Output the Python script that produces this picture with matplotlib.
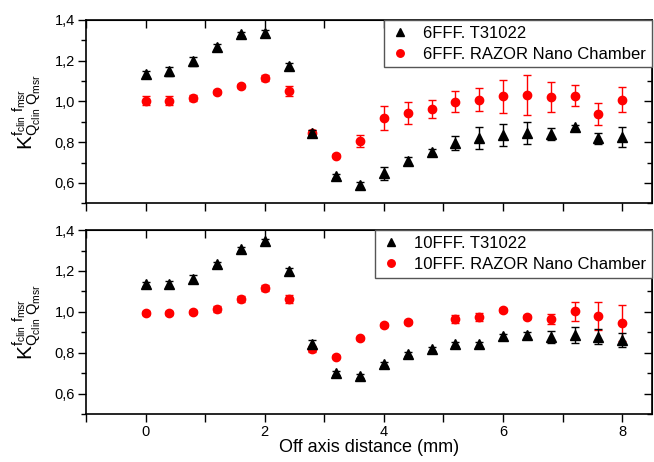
import numpy as np
import matplotlib
matplotlib.use("Agg")
import matplotlib.pyplot as plt
from matplotlib.ticker import MultipleLocator, FuncFormatter

plt.rcParams['font.family'] = ['Liberation Sans', 'DejaVu Sans']
plt.rcParams['mathtext.fontset'] = 'custom'
plt.rcParams['mathtext.rm'] = 'Liberation Sans'
plt.rcParams['mathtext.it'] = 'Liberation Sans'

# off axis distance (mm)
distance = [0.0, 0.4, 0.8, 1.2, 1.6, 2.0, 2.4, 2.8, 3.2, 3.6, 4.0,
            4.4, 4.8, 5.2, 5.6, 6.0, 6.4, 6.8, 7.2, 7.6, 8.0]

# 6FFF
k6_t31022 = [1.136, 1.147, 1.196, 1.269, 1.330, 1.336, 1.175, 0.847, 0.633, 0.589, 0.647,
             0.707, 0.752, 0.796, 0.821, 0.834, 0.845, 0.839, 0.875, 0.818, 0.826]
k6_t31022_err = [0.015, 0.02, 0.02, 0.015, 0.01, 0.015, 0.015, 0.015, 0.01, 0.015, 0.032,
                 0.018, 0.012, 0.034, 0.053, 0.055, 0.054, 0.029, 0.01, 0.029, 0.05]
k6_razor = [1.004, 1.004, 1.018, 1.044, 1.075, 1.114, 1.051, 0.847, 0.733, 0.806, 0.919,
            0.943, 0.963, 0.999, 1.009, 1.025, 1.031, 1.021, 1.028, 0.938, 1.009]
k6_razor_err = [0.02, 0.02, 0.015, 0.01, 0.008, 0.015, 0.025, 0.015, 0.008, 0.031, 0.057,
                0.052, 0.045, 0.052, 0.056, 0.08, 0.10, 0.075, 0.051, 0.056, 0.061]

# 10FFF
k10_t31022 = [1.134, 1.137, 1.162, 1.234, 1.307, 1.345, 1.201, 0.842, 0.702, 0.686, 0.743,
              0.793, 0.818, 0.841, 0.841, 0.880, 0.885, 0.875, 0.888, 0.878, 0.862]
k10_t31022_err = [0.01, 0.015, 0.02, 0.012, 0.01, 0.01, 0.015, 0.02, 0.01, 0.01, 0.01,
                  0.01, 0.01, 0.01, 0.012, 0.012, 0.015, 0.03, 0.04, 0.037, 0.034]
k10_razor = [0.995, 0.995, 0.997, 1.012, 1.062, 1.116, 1.062, 0.819, 0.780, 0.870, 0.935,
             0.948, np.nan, 0.963, 0.973, 1.009, 0.976, 0.963, 1.002, 0.979, 0.947]
k10_razor_err = [0.01, 0.01, 0.01, 0.015, 0.015, 0.015, 0.018, 0.015, 0.008, 0.008, 0.008,
                 0.01, np.nan, 0.02, 0.02, 0.012, 0.01, 0.025, 0.046, 0.068, 0.088]

panels = [
    (k6_t31022, k6_t31022_err, k6_razor, k6_razor_err, "6FFF. T31022", "6FFF. RAZOR Nano Chamber"),
    (k10_t31022, k10_t31022_err, k10_razor, k10_razor_err, "10FFF. T31022", "10FFF. RAZOR Nano Chamber"),
]

ylabel = r'$\mathrm{K^{f_{clin}\ f_{msr}}_{Q_{clin}\ Q_{msr}}}$'
comma = FuncFormatter(lambda v, pos: ("%.1f" % v).replace('.', ','))
even_only = FuncFormatter(lambda v, pos: "%d" % v if abs(v) % 2 < 1e-6 else "")

fig = plt.figure(figsize=(6.54, 4.62), dpi=100)
boxes = [[0.1315, 0.560, 0.8655, 0.397], [0.1315, 0.104, 0.8655, 0.398]]

for i, (bk, bk_err, rd, rd_err, lab_bk, lab_rd) in enumerate(panels):
    ax = fig.add_axes(boxes[i])
    ax.errorbar(distance, rd, yerr=rd_err, fmt='none', ecolor='red', elinewidth=1,
                capsize=3, capthick=1, zorder=2)
    h_rd, = ax.plot(distance, rd, 'o', color='red', ms=6, mec='red', zorder=3, label=lab_rd)
    ax.errorbar(distance, bk, yerr=bk_err, fmt='none', ecolor='black', elinewidth=1,
                capsize=3, capthick=1, zorder=4)
    h_bk, = ax.plot(distance, bk, '^', color='black', ms=6.5, zorder=5, label=lab_bk)

    ax.set_xlim(-1, 8.5)
    ax.set_ylim(0.5, 1.4)
    ax.xaxis.set_major_locator(MultipleLocator(1))
    ax.yaxis.set_major_locator(MultipleLocator(0.2))
    ax.yaxis.set_minor_locator(MultipleLocator(0.1))
    ax.yaxis.set_major_formatter(comma)
    ax.xaxis.set_major_formatter(even_only)
    ax.tick_params(which='both', direction='out', width=1, labelsize=10.5, pad=2)
    ax.tick_params(which='major', length=6)
    ax.tick_params(which='minor', length=3.5)
    for s in ax.spines.values():
        s.set_linewidth(1.2)

    # mirrored ticks pointing inward on top and right
    top = ax.secondary_xaxis('top')
    top.xaxis.set_major_locator(MultipleLocator(1))
    top.tick_params(direction='in', length=6, width=1, labeltop=False)
    right = ax.secondary_yaxis('right')
    right.yaxis.set_major_locator(MultipleLocator(0.2))
    right.yaxis.set_minor_locator(MultipleLocator(0.1))
    right.tick_params(which='both', direction='in', width=1, labelright=False)
    right.tick_params(which='major', length=6)
    right.tick_params(which='minor', length=3.5)

    if i == 0:
        ax.tick_params(axis='x', labelbottom=False)
    else:
        ax.set_xlabel("Off axis distance (mm)", fontsize=13, labelpad=0)

    ax.set_ylabel(ylabel, fontsize=15)
    ax.yaxis.set_label_coords(-0.075, 0.5)

    leg = ax.legend(handles=[h_bk, h_rd], loc='upper right', borderaxespad=0,
                    fancybox=False, framealpha=1, edgecolor='#555555', fontsize=12,
                    handlelength=1.2, handletextpad=0.8, borderpad=0.35,
                    labelspacing=0.35, markerscale=0.9)
    leg.get_frame().set_linewidth(1)

fig.savefig("out.png", dpi=100)
